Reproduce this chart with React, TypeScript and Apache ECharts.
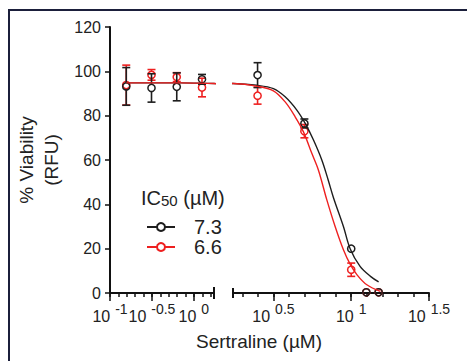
import React, { useEffect, useRef } from "react";
import * as echarts from "echarts";

// ---- data (concentrations in µM, viability in %) ----
const concentrations = [0.15625, 0.3125, 0.625, 1.25, 2.5, 5, 10, 12.5, 15];
const blackMeans = [93.2, 92.5, 93.0, 96.4, 98.3, 76.5, 20.0, 0.3, 0.3];
const blackErrors = [8.5, 6.4, 6.3, 2.2, 5.6, 2.0, 0, 0, 0];
const redMeans = [93.8, 98.4, 97.4, 92.7, 89.0, 73.0, 10.5, 0.3, 0.3];
const redErrors = [9.0, 2.4, 2.0, 4.2, 3.8, 3.0, 3.0, 0, 0];

const blackCurveConc = [0.15625, 0.5, 1.0, 1.74, 2.47, 3.16, 3.76, 4.47, 5.06, 5.72, 6.47, 7.11, 7.69, 8.91, 9.84, 11.4, 13.3, 15.0];
const blackCurveValues = [94.8, 94.8, 94.7, 94.5, 93.7, 92.2, 88.5, 82.5, 76.5, 69, 60, 51, 43, 30, 20, 12, 7.5, 5];
const redCurveConc = [0.15625, 0.5, 1.0, 1.74, 2.47, 3.16, 3.76, 4.36, 4.93, 5.58, 6.15, 6.97, 7.88, 8.91, 9.84, 10.9, 12.6, 15.4];
const redCurveValues = [94.8, 94.8, 94.7, 94.5, 93.3, 91.2, 86.2, 79.5, 72.7, 63, 55.5, 42, 30, 19.5, 13, 8.2, 3.7, 0.7];

const seriesNames = ["7.3", "6.6"];

// axis exponents (log10 µM)
const leftRange = [-1, 0.24];
const rightRange = [0.24, 1.5];
const leftMajorTicks = [-1, -0.5, 0];
const leftLabelsA = [-1, 0];
const leftLabelsB = [-0.5];
const leftMinorTicks = [-1, -0.9, -0.8, -0.7, -0.6, -0.5, -0.4, -0.3, -0.2, -0.1, 0, 0.1, 0.2];
const rightMajorTicks = [0.5, 1, 1.5];
const rightMinorTicks = [0.3, 0.4, 0.5, 0.6, 0.7, 0.8, 0.9, 1, 1.1, 1.2, 1.3, 1.4, 1.5];
const yTicks = { min: 0, max: 120, interval: 20 };

// ---- layout / style ----
const W = 467;
const H = 361;
const PLOT_TOP = 27;
const PLOT_BOTTOM = 68;
const LEFT_X = 110;
const LEFT_W = 104;
const RIGHT_X = 233;
const RIGHT_W = 196;
const AXIS_Y = H - PLOT_BOTTOM;
const FONT = "'Liberation Sans', Arial, Helvetica, sans-serif";
const BLACK = "#1e1e1e";
const RED = "#ee2020";
const AXIS = "#111111";

const log = (c: number) => Math.log10(c);

function pointsFor(means: number[], errs: number[], lo: number, hi: number) {
  const out: number[][] = [];
  concentrations.forEach((c, i) => {
    const e = log(c);
    if (e >= lo && e <= hi) out.push([e, means[i], errs[i]]);
  });
  return out;
}

function curveFor(conc: number[], vals: number[]) {
  return conc.map((c, i) => [log(c), vals[i]]);
}

const renderPoints = (color: string) => (_params: any, api: any) => {
  const x = api.value(0);
  const m = api.value(1);
  const e = api.value(2);
  const c = api.coord([x, m]);
  const r = 3.6;
  const children: any[] = [];
  const st = { stroke: color, lineWidth: 1.6, fill: "none" };
  if (e > 0) {
    const t = api.coord([x, m + e]);
    const b = api.coord([x, m - e]);
    if (t[1] < c[1] - r) children.push({ type: "line", shape: { x1: c[0], y1: t[1], x2: c[0], y2: c[1] - r }, style: st });
    if (b[1] > c[1] + r) children.push({ type: "line", shape: { x1: c[0], y1: c[1] + r, x2: c[0], y2: b[1] }, style: st });
    children.push({ type: "line", shape: { x1: c[0] - 4, y1: t[1], x2: c[0] + 4, y2: t[1] }, style: st });
    children.push({ type: "line", shape: { x1: c[0] - 4, y1: b[1], x2: c[0] + 4, y2: b[1] }, style: st });
  }
  children.push({ type: "circle", shape: { cx: c[0], cy: c[1], r }, style: { stroke: color, fill: "none", lineWidth: 1.5 } });
  return { type: "group", children };
};

const labelRich = {
  b: { fontSize: 16, lineHeight: 22, verticalAlign: "bottom", color: "#222", fontFamily: FONT },
  s: { fontSize: 14, lineHeight: 14, verticalAlign: "top", color: "#222", fontFamily: FONT, padding: [0, 0, 0, 5] },
};
const fmtPow = (v: number) => `{b|10}{s|${v}}`;

const baseAxis = (gridIndex: number, range: number[]) => ({
  gridIndex, type: "value", position: "bottom", min: range[0], max: range[1], splitLine: { show: false },
});

function minorAxis(gridIndex: number, range: number[], minor: number[]) {
  return {
    ...baseAxis(gridIndex, range),
    axisLine: { show: true, onZero: false, lineStyle: { color: AXIS, width: 2 } },
    axisTick: { show: true, interval: 0, customValues: minor, length: 4, lineStyle: { color: AXIS, width: 1.5 } },
    axisLabel: { show: false },
  };
}

function labelAxis(gridIndex: number, range: number[], ticks: number[] | null, labels: number[]) {
  return {
    ...baseAxis(gridIndex, range),
    axisLine: { show: false, onZero: false },
    axisTick: ticks
      ? { show: true, interval: 0, customValues: ticks, length: 8, lineStyle: { color: AXIS, width: 1.5 } }
      : { show: false },
    axisLabel: {
      show: true, interval: 0, customValues: labels, formatter: fmtPow, rich: labelRich, margin: 9,
      hideOverlap: false, showMinLabel: true, showMaxLabel: true,
    },
  };
}

export default function App() {
  const ref = useRef<HTMLDivElement>(null);
  useEffect(() => {
    document.body.style.margin = "0";
    if (!ref.current) return;
    const chart = echarts.init(ref.current, undefined, { renderer: "svg" });
    const blackCurve = curveFor(blackCurveConc, blackCurveValues);
    const redCurve = curveFor(redCurveConc, redCurveValues);
    const curve = (name: string, data: number[][], color: string, xi: number, yi: number) => ({
      type: "line", name, data, xAxisIndex: xi, yAxisIndex: yi, smooth: 0.35, showSymbol: false,
      symbol: "emptyCircle", symbolSize: 8, clip: true,
      lineStyle: { color, width: 1.4 }, itemStyle: { color }, silent: true,
    });
    const pts = (means: number[], errs: number[], color: string, xi: number, yi: number, range: number[]) => ({
      type: "custom", data: pointsFor(means, errs, range[0], range[1]), xAxisIndex: xi, yAxisIndex: yi,
      renderItem: renderPoints(color), clip: false, silent: true,
    });
    const RX = 3; // index of right-grid main x axis
    chart.setOption({
      animation: false,
      textStyle: { fontFamily: FONT },
      grid: [
        { left: LEFT_X, width: LEFT_W, top: PLOT_TOP, bottom: PLOT_BOTTOM, containLabel: false },
        { left: RIGHT_X, width: RIGHT_W, top: PLOT_TOP, bottom: PLOT_BOTTOM, containLabel: false },
      ],
      xAxis: [
        minorAxis(0, leftRange, leftMinorTicks),
        labelAxis(0, leftRange, leftMajorTicks, leftLabelsA),
        labelAxis(0, leftRange, null, leftLabelsB),
        minorAxis(1, rightRange, rightMinorTicks),
        labelAxis(1, rightRange, rightMajorTicks, rightMajorTicks),
      ],
      yAxis: [
        {
          gridIndex: 0, type: "value", min: yTicks.min, max: yTicks.max, interval: yTicks.interval,
          axisLine: { show: true, onZero: false, lineStyle: { color: AXIS, width: 2 } },
          axisTick: { show: true, length: 5, lineStyle: { color: AXIS, width: 1.5 } },
          axisLabel: { fontSize: 16, color: "#222", margin: 9, fontFamily: FONT },
          splitLine: { show: false },
          name: "% Viability\n(RFU)", nameLocation: "middle", nameGap: 46, nameRotate: 90,
          nameTextStyle: { fontSize: 19, lineHeight: 25, color: "#222", fontFamily: FONT },
        },
        { gridIndex: 1, type: "value", min: yTicks.min, max: yTicks.max, show: false },
      ],
      legend: {
        data: seriesNames, orient: "vertical", left: 141, top: 212, itemWidth: 28, itemHeight: 10, itemGap: 0,
        selectedMode: false,
        formatter: (name: string) => `{g|}{t|${name}}`,
        textStyle: {
          fontSize: 20, color: "#222", fontFamily: FONT,
          rich: {
            g: { width: 14, fontSize: 20, lineHeight: 21 },
            t: { fontSize: 20, lineHeight: 21, color: "#222", fontFamily: FONT },
          },
        },
      },
      graphic: [
        { type: "rect", shape: { x: 9, y: 10, width: W + 20, height: H + 20 }, style: { fill: "none", stroke: "#1b1f3b", lineWidth: 2 }, silent: true },
        { type: "line", shape: { x1: LEFT_X + LEFT_W, y1: AXIS_Y - 6, x2: LEFT_X + LEFT_W, y2: AXIS_Y + 6 }, style: { stroke: AXIS, lineWidth: 2 } },
        { type: "line", shape: { x1: RIGHT_X, y1: AXIS_Y - 5, x2: RIGHT_X, y2: AXIS_Y + 5 }, style: { stroke: AXIS, lineWidth: 2 } },
        { type: "text", x: 259, y: 341, style: { text: "Sertraline (µM)", fontSize: 19, fill: "#222", fontFamily: FONT, textAlign: "center", textVerticalAlign: "middle" } },
        {
          type: "text", x: 141, y: 198,
          style: {
            text: "{a|IC}{b|50}{a| (µM)}", textVerticalAlign: "middle", fill: "#222", fontFamily: FONT,
            rich: {
              a: { fontSize: 20, lineHeight: 20, verticalAlign: "bottom", fill: "#222", fontFamily: FONT },
              b: { fontSize: 15, lineHeight: 15, verticalAlign: "bottom", fill: "#222", fontFamily: FONT },
            },
          },
        },
      ],
      series: [
        curve(seriesNames[0], blackCurve, BLACK, 0, 0),
        curve(seriesNames[1], redCurve, RED, 0, 0),
        curve(seriesNames[0], blackCurve, BLACK, RX, 1),
        curve(seriesNames[1], redCurve, RED, RX, 1),
        pts(redMeans, redErrors, RED, 0, 0, leftRange),
        pts(blackMeans, blackErrors, BLACK, 0, 0, leftRange),
        pts(redMeans, redErrors, RED, RX, 1, rightRange),
        pts(blackMeans, blackErrors, BLACK, RX, 1, rightRange),
      ],
    });
    return () => chart.dispose();
  }, []);
  return <div ref={ref} style={{ width: W, height: H }} />;
}
